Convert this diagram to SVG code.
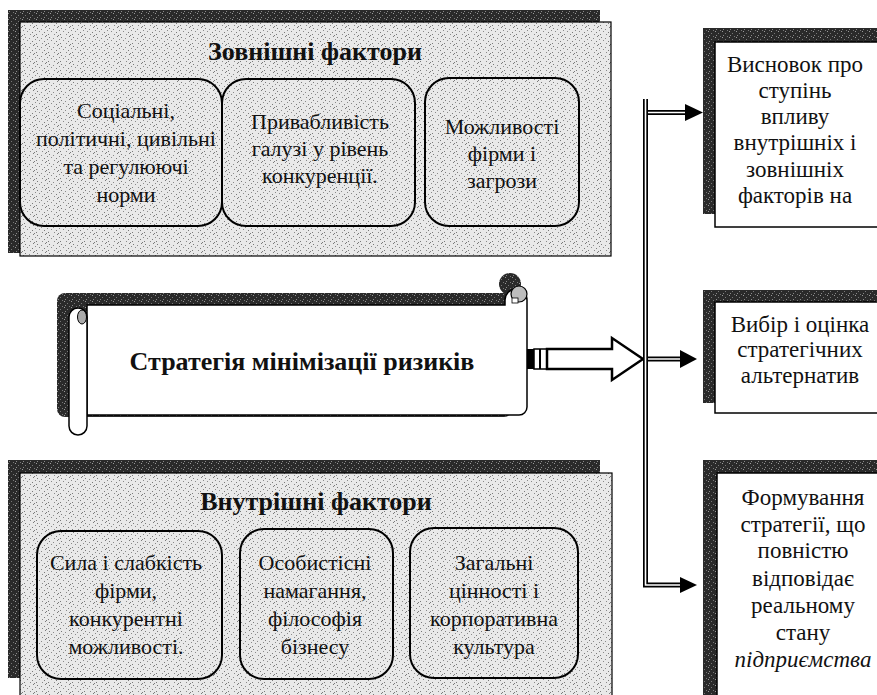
<svg xmlns="http://www.w3.org/2000/svg" width="877" height="695" viewBox="0 0 877 695">
<defs>
<pattern id="dots" width="12" height="9" patternUnits="userSpaceOnUse">
<rect width="12" height="9" fill="#e9e9e9"/>
<rect x="1" y="1" width="1" height="1" fill="#7a7a7a"/>
<rect x="5" y="2" width="1" height="1" fill="#8a8a8a"/>
<rect x="9" y="0" width="1" height="1" fill="#7a7a7a"/>
<rect x="3" y="4" width="1" height="1" fill="#8a8a8a"/>
<rect x="8" y="5" width="1" height="1" fill="#7a7a7a"/>
<rect x="11" y="3" width="1" height="1" fill="#8a8a8a"/>
<rect x="0" y="7" width="1" height="1" fill="#7a7a7a"/>
<rect x="6" y="7" width="1" height="1" fill="#8a8a8a"/>
<rect x="10" y="8" width="1" height="1" fill="#7a7a7a"/>
</pattern>
<pattern id="dark" width="7" height="6" patternUnits="userSpaceOnUse">
<rect width="7" height="6" fill="#2a2a2a"/>
<rect x="1" y="1" width="1" height="1" fill="#9a9a9a"/>
<rect x="4" y="3" width="1" height="1" fill="#777"/>
<rect x="6" y="0" width="1" height="1" fill="#777"/>
<rect x="2" y="5" width="1" height="1" fill="#888"/>
</pattern>
<style>
.panel{fill:url(#dots);stroke:#000;stroke-width:1.2}
.shadow{fill:url(#dark)}
.ib{fill:none;stroke:#000;stroke-width:2}
.wb{fill:#fff;stroke:#000;stroke-width:1.5}
.t{font-family:"Liberation Serif","Times New Roman",serif;font-size:22px;fill:#111;text-anchor:middle}
.h{font-family:"Liberation Serif","Times New Roman",serif;font-size:26px;font-weight:bold;fill:#111;text-anchor:middle}
.r{font-family:"Liberation Serif","Times New Roman",serif;font-size:23px;fill:#111;text-anchor:middle}
.dbl{fill:none;stroke:#000;stroke-width:5}
.dbli{fill:none;stroke:#fff;stroke-width:1.6}
</style>
</defs>

<g id="external-factors">
<rect class="shadow" x="8" y="10" width="592" height="243"/>
<rect class="panel" x="20" y="22" width="591" height="234"/>
<text class="h" x="315" y="60">Зовнішні фактори</text>
<g id="ext-1">
<rect class="ib" x="20" y="79" width="202" height="147" rx="24"/>
<text class="t" x="126" y="118">Соціальні,</text>
<text class="t" x="126" y="146">політичні, цивільні</text>
<text class="t" x="126" y="174">та регулюючі</text>
<text class="t" x="126" y="202">норми</text>
</g>
<g id="ext-2">
<rect class="ib" x="222" y="79" width="193" height="147" rx="24"/>
<text class="t" x="320" y="129">Привабливість</text>
<text class="t" x="320" y="156">галузі у рівень</text>
<text class="t" x="320" y="183">конкуренції.</text>
</g>
<g id="ext-3">
<rect class="ib" x="425" y="78" width="154" height="148" rx="24"/>
<text class="t" x="502" y="134">Можливості</text>
<text class="t" x="502" y="161">фірми і</text>
<text class="t" x="502" y="188">загрози</text>
</g>
</g>

<g id="internal-factors">
<rect class="shadow" x="8" y="460" width="592" height="218"/>
<rect class="panel" x="20" y="473" width="592" height="230"/>
<text class="h" x="316" y="510">Внутрішні фактори</text>
<g id="int-1">
<rect class="ib" x="37" y="531" width="185" height="148" rx="24"/>
<text class="t" x="126" y="570">Сила і слабкість</text>
<text class="t" x="126" y="598">фірми,</text>
<text class="t" x="126" y="626">конкурентні</text>
<text class="t" x="126" y="654">можливості.</text>
</g>
<g id="int-2">
<rect class="ib" x="240" y="529" width="153" height="150" rx="24"/>
<text class="t" x="315" y="570">Особистісні</text>
<text class="t" x="315" y="598">намагання,</text>
<text class="t" x="315" y="626">філософія</text>
<text class="t" x="315" y="654">бізнесу</text>
</g>
<g id="int-3">
<rect class="ib" x="410" y="528" width="168" height="150" rx="24"/>
<text class="t" x="494" y="570">Загальні</text>
<text class="t" x="494" y="598">цінності і</text>
<text class="t" x="494" y="626">корпоративна</text>
<text class="t" x="494" y="654">культура</text>
</g>
</g>

<g id="strategy-scroll">
<rect class="shadow" x="57" y="293" width="455" height="124" rx="8"/>
<circle cx="510" cy="284" r="11" fill="url(#dark)"/>
<path d="M87,305 H505 V300 A9,9 0 0 1 527,300 V407 A8,8 0 0 1 519,415 H87 Z" fill="#fff" stroke="#000" stroke-width="1.5"/>
<circle cx="519" cy="294" r="8" fill="#bdbdbd" stroke="#000" stroke-width="1.2"/>
<rect x="512" y="298" width="6" height="5" fill="#fff" stroke="#000" stroke-width="0.8"/>
<rect class="wb" x="69" y="308" width="18" height="127" rx="9"/>
<ellipse cx="82" cy="317" rx="4.5" ry="7" fill="#aaa" stroke="#000" stroke-width="1"/>
<text class="h" x="302" y="370">Стратегія мінімізації ризиків</text>
</g>

<g id="conclusion">
<rect class="shadow" x="703" y="28" width="180" height="186"/>
<rect class="wb" x="715" y="42" width="175" height="185"/>
<text class="r" x="795" y="72">Висновок про</text>
<text class="r" x="795" y="98">ступінь</text>
<text class="r" x="795" y="124">впливу</text>
<text class="r" x="795" y="150">внутрішніх і</text>
<text class="r" x="795" y="177">зовнішніх</text>
<text class="r" x="795" y="203">факторів на</text>
</g>

<g id="choice">
<rect class="shadow" x="703" y="290" width="180" height="113"/>
<rect class="wb" x="715" y="302" width="175" height="111"/>
<text class="r" x="800" y="332">Вибір і оцінка</text>
<text class="r" x="800" y="357">стратегічних</text>
<text class="r" x="800" y="383">альтернатив</text>
</g>

<g id="formation">
<rect class="shadow" x="703" y="460" width="180" height="240"/>
<rect class="wb" x="717" y="473" width="175" height="230"/>
<text class="r" x="803" y="505">Формування</text>
<text class="r" x="803" y="532">стратегії, що</text>
<text class="r" x="803" y="558">повністю</text>
<text class="r" x="803" y="586">відповідає</text>
<text class="r" x="803" y="613">реальному</text>
<text class="r" x="803" y="640">стану</text>
<text class="r" x="803" y="667" font-style="italic">підприємства</text>
</g>

<g id="connectors">
<rect x="527" y="349" width="7" height="20" fill="#000"/>
<rect x="534" y="349" width="13" height="20" fill="#fff" stroke="#000" stroke-width="1.5"/>
<line x1="540" y1="349" x2="540" y2="369" stroke="#000" stroke-width="2"/>
<polygon points="547,349 612,349 612,338 643,359 612,380 612,369 547,369" fill="#fff" stroke="#000" stroke-width="2.5" stroke-linejoin="miter"/>
<path class="dbl" d="M645.5,99 V585 H684"/>
<path class="dbl" d="M648,112.5 H688"/>
<path class="dbl" d="M648,359 H682"/>
<path class="dbli" d="M645.5,99 V585 H684"/>
<path class="dbli" d="M648,112.5 H688"/>
<path class="dbli" d="M648,359 H682"/>
<polygon points="685,104 703,112.5 685,121" fill="#000"/>
<polygon points="680,350 697,359 680,368" fill="#000"/>
<polygon points="680,577 697,585 680,593" fill="#000"/>
</g>
</svg>
